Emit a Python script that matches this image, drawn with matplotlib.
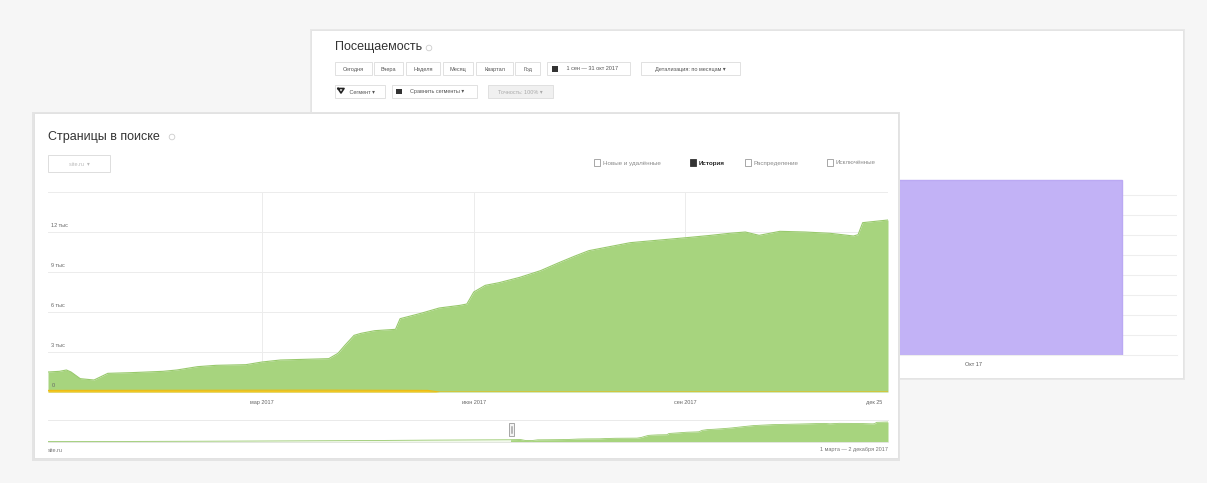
import matplotlib
matplotlib.use('Agg')
import matplotlib.pyplot as plt
from matplotlib.patches import Rectangle, Circle
from matplotlib.transforms import blended_transform_factory

plt.rcParams['font.family'] = ['Liberation Sans', 'DejaVu Sans']

W, H = 1207, 483

# --- data: pages in search (days since 28 Nov 2016) ---
days = [0, 5, 8, 10, 14, 20, 26, 36, 50, 56, 65, 73, 86, 93, 101, 122, 126,
        129, 133, 136, 142, 151, 153, 162, 170, 179, 182, 185, 190, 196, 205,
        214, 222, 229, 235, 244, 253, 266, 279, 288, 296, 303, 309, 318, 329,
        340, 350, 352, 354, 365]
pages = [1500, 1550, 1650, 1500, 1000, 900, 1400, 1450, 1550, 1650, 1900,
         2000, 2050, 2250, 2400, 2500, 2900, 3500, 4250, 4400, 4600, 4700,
         5500, 5900, 6300, 6500, 6600, 7500, 8000, 8200, 8600, 9100, 9700,
         10200, 10600, 10900, 11200, 11400, 11600, 11750, 11900, 12000, 11750,
         12050, 12000, 11900, 11700, 11800, 12700, 12900]
excl_days = [0, 60, 120, 165, 170, 365]
excluded = [120, 130, 140, 120, 0, 0]

# earlier history shown only in the navigator
hist_days = [-448, -380, -300, -220, -150, -80, -1]
hist_pages = [300, 350, 500, 700, 900, 1200, 1450]

y_ticks = [3000, 6000, 9000, 12000]
y_labels = ['3 тыс', '6 тыс', '9 тыс', '12 тыс']
x_ticks = [93, 185, 277, 359]
x_labels = ['мар 2017', 'июн 2017', 'сен 2017', 'дек 25']

# --- data: visits (back panel) ---
visit_months = ['Окт 17']
visits = [8.75]

period_buttons = ['Сегодня', 'Вчера', 'Неделя', 'Месяц', 'Квартал', 'Год']
tabs = ['Новые и удалённые', 'История', 'Распределение', 'Исключённые']

GREEN = '#a7d47e'
PURPLE = '#c2b2f6'


def box(x, y, w, h):
    return [x / W, 1 - (y + h) / H, w / W, h / H]


def canvas(z):
    ax = fig.add_axes([0, 0, 1, 1], zorder=z)
    ax.set_xlim(0, W)
    ax.set_ylim(H, 0)
    ax.axis('off')
    ax.patch.set_visible(False)
    return ax


def button(ax, x, y, w, h, text, face='white', color='#555555', size=4):
    ax.add_patch(Rectangle((x, y), w, h, facecolor=face, edgecolor='#dcdcdc', lw=0.6))
    ax.text(x + w / 2, y + h / 2 + 0.5, text, fontsize=size, color=color,
            ha='center', va='center')


fig = plt.figure(figsize=(W / 100, H / 100), dpi=100)
fig.patch.set_facecolor('#f6f6f6')

# ---------------- back panel ----------------
back = canvas(0)
back.add_patch(Rectangle((310, 29), 875, 351, facecolor='#e8e8e8', edgecolor='none'))
back.add_patch(Rectangle((311, 30), 872, 348, facecolor='white', edgecolor='#e2e2e2', lw=0.6))
back.text(335, 47, 'Посещаемость', fontsize=9, color='#333333', va='center')
back.add_patch(Circle((429, 48), 2.8, facecolor='none', edgecolor='#cccccc', lw=0.6))

bx = [335, 374, 406, 443, 476, 515]
bw = [37, 29, 34, 30, 37, 25]
for x, w, t in zip(bx, bw, period_buttons):
    button(back, x, 62, w, 13, t)
button(back, 547, 62, 83, 13, '     1 сен — 31 окт 2017')
back.add_patch(Rectangle((552, 65.5), 6, 6, facecolor='#333333'))
button(back, 641, 62, 99, 13, 'Детализация: по месяцам ▾')
button(back, 335, 85, 50, 13, '   Сегмент ▾')
back.plot([338, 344, 341, 338], [88.5, 88.5, 93, 88.5], color='#222222', lw=1.2)
button(back, 392, 85, 85, 13, '    Сравнить сегменты ▾')
back.add_patch(Rectangle((396, 88.5), 6, 5, facecolor='#333333'))
button(back, 488, 85, 65, 13, 'Точность: 100% ▾', face='#f0f0f0', color='#aaaaaa')

bars = fig.add_axes(box(318, 177, 859, 178), zorder=1)
bars.bar(range(len(visits)), visits, width=1.0, color=PURPLE, edgecolor='#bba9f3', lw=1)
bars.set_xlim(-2.2, 0.685)
bars.set_ylim(0, 8.9)
bars.set_yticks(range(1, 9))
bars.yaxis.grid(True, color='#eeeeee', lw=0.8)
bars.set_axisbelow(True)
bars.set_xticks(range(len(visits)))
bars.set_xticklabels(visit_months, fontsize=4, color='#555555')
bars.tick_params(length=0, labelleft=False, pad=5)
for s in ['top', 'left', 'right']:
    bars.spines[s].set_visible(False)
bars.spines['bottom'].set_color('#eeeeee')

# ---------------- front panel ----------------
front = canvas(2)
front.add_patch(Rectangle((32, 112), 868, 349, facecolor='#e4e4e4', edgecolor='none'))
front.add_patch(Rectangle((34, 113), 864, 345, facecolor='white', edgecolor='#e0e0e0', lw=0.6))
front.text(48, 137, 'Страницы в поиске', fontsize=9, color='#333333', va='center')
front.add_patch(Circle((172, 137), 2.8, facecolor='none', edgecolor='#cccccc', lw=0.6))
front.add_patch(Rectangle((48, 155), 62, 17, facecolor='white', edgecolor='#dddddd', lw=0.7))
front.text(79, 164, 'site.ru  ▾', fontsize=4, color='#bbbbbb', ha='center', va='center')

tab_x = [597, 693, 748, 830]
for i, (x, t) in enumerate(zip(tab_x, tabs)):
    active = t == 'История'
    front.add_patch(Rectangle((x - 3, 159), 6, 7,
                              facecolor='#333333' if active else 'none',
                              edgecolor='#333333' if active else '#999999', lw=0.6))
    front.text(x + 6, 163, t, fontsize=4.5, color='#222222' if active else '#8a8a8a',
               va='center', fontweight='bold' if active else 'normal')

front.text(48, 450, 'site.ru', fontsize=4, color='#777777', va='center')
front.text(888, 450, '1 марта — 2 декабря 2017', fontsize=4, color='#777777',
           va='center', ha='right')

# main area chart
ax = fig.add_axes(box(48, 192, 840, 200), zorder=3)
ax.fill_between(days, pages, color=GREEN, lw=0)
ax.plot(days, pages, color='#98c96c', lw=0.8)
ax.fill_between(excl_days, excluded, color='#f3c623', lw=0)
ax.plot(excl_days, excluded, color='#f0bd10', lw=0.8)
ax.set_xlim(0, 365)
ax.set_ylim(0, 15000)
ax.set_yticks(y_ticks)
ax.set_xticks(x_ticks[:3], minor=False)
ax.grid(True, color='#ececec', lw=0.7)
ax.set_axisbelow(True)
ax.set_xticks(x_ticks)
ax.set_xticklabels(x_labels, fontsize=4, color='#666666')
ax.tick_params(length=0, labelleft=False, pad=6)
for s in ['top', 'left', 'right', 'bottom']:
    ax.spines[s].set_visible(False)
ax.axhline(15000, color='#ececec', lw=0.7)
tr = blended_transform_factory(ax.transAxes, ax.transData)
for v, lab in zip([0] + y_ticks, ['0'] + y_labels):
    ax.text(0.004, v + 300, lab, transform=tr, fontsize=4, color='#666666', va='bottom')
# last vertical grid line only at the right edge
ax.get_xgridlines()[-1].set_visible(False)

# navigator
nav = fig.add_axes(box(48, 420, 840, 22), zorder=3)
nav.fill_between(hist_days + days, hist_pages + pages, color=GREEN, lw=0)
nav.plot(hist_days + days, hist_pages + pages, color='#98c96c', lw=0.6)
nav.set_xlim(-448, 365)
nav.set_ylim(0, 14200)
nav.axvspan(-448, 0, color='white', alpha=0.85, lw=0)
nav.plot([-448, 0], [0, 0], color='#dddddd', lw=0.6)
nav.set_xticks([])
nav.set_yticks([])
for s in nav.spines.values():
    s.set_color('#e6e6e6')
    s.set_linewidth(0.6)
nav.spines['left'].set_visible(False)
nav.spines['right'].set_visible(False)

handle = canvas(4)
handle.add_patch(Rectangle((509, 423), 5, 13, facecolor='#f4f4f4', edgecolor='#999999', lw=0.6))
handle.plot([510.8, 510.8], [426, 433], color='#888888', lw=0.4)
handle.plot([512.2, 512.2], [426, 433], color='#888888', lw=0.4)

fig.savefig('out.png', dpi=100, facecolor=fig.get_facecolor())
